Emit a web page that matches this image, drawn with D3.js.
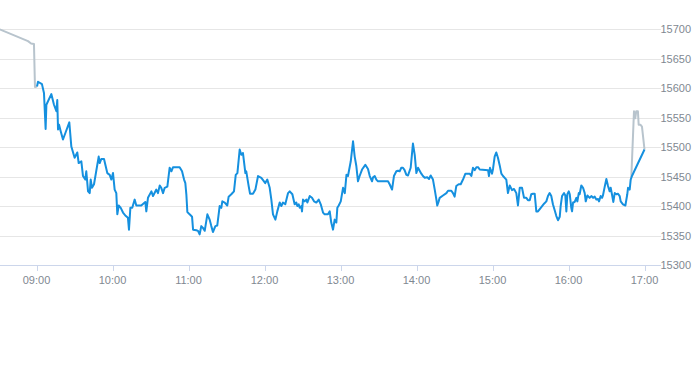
<!DOCTYPE html>
<html><head><meta charset="utf-8">
<script src="https://cdn.jsdelivr.net/npm/d3@7/dist/d3.min.js"></script>
<style>html,body{margin:0;padding:0;background:#fff;}svg{display:block;font-family:"Liberation Sans",Arial,sans-serif;}</style>
</head><body>
<svg id="chart" width="693" height="365"></svg>
<script>
// minutes after 09:00
const mainTimes = [0.4,1.2,4.3,5.9,7.2,7.8,11.7,13.8,15.7,16.4,17.0,17.8,19.1,20.9,22.8,25.9,27.5,30.1,32.2,33.3,35.4,36.7,38.5,39.3,40.7,42.0,42.8,43.8,45.4,49.1,49.9,51.2,53.3,55.9,57.8,59.1,60.4,61.7,63.0,63.8,64.9,66.5,68.3,70.1,72.2,73.0,74.1,75.6,77.5,78.8,82.7,85.9,86.7,88.0,90.7,92.0,94.6,95.9,97.3,98.5,99.9,101.2,103.3,105.1,106.5,107.8,113.0,114.9,116.5,117.5,118.3,119.1,120.9,122.8,123.6,126.2,127.5,128.8,130.1,131.4,132.8,134.9,136.7,138.0,139.3,141.2,142.7,144.6,145.9,146.7,148.6,150.6,151.7,153.8,155.9,157.3,158.6,160.4,161.7,163.0,164.9,165.6,167.5,168.6,170.9,172.8,174.9,177.5,179.6,180.6,182.2,184.1,185.4,186.7,188.6,190.1,192.0,193.3,194.6,196.4,198.6,199.9,202.0,203.8,205.1,205.9,207.0,207.8,209.1,209.6,210.4,211.7,213.0,213.8,215.7,217.5,219.1,220.9,222.8,224.4,226.2,227.5,230.1,231.5,232.7,234.1,235.4,236.7,237.5,238.6,240.2,242.0,243.4,244.7,245.9,248.1,249.9,251.2,252.5,253.8,255.1,257.0,259.6,261.7,263.1,264.9,265.7,267.0,268.3,269.6,277.5,278.8,280.7,282.2,284.1,285.4,286.7,288.0,289.3,290.6,292.0,293.3,295.4,297.2,298.6,299.9,301.2,303.8,305.1,306.5,308.5,309.9,311.2,313.0,314.4,315.7,316.4,317.5,318.3,320.9,323.6,324.9,327.5,328.8,330.1,331.4,333.3,334.9,336.7,338.6,342.0,343.3,344.6,346.0,347.3,348.6,349.9,356.5,357.2,358.0,359.6,360.4,361.7,363.0,364.3,365.7,367.0,368.3,370.9,372.2,373.6,375.4,377.0,378.8,380.1,381.5,383.3,384.9,386.7,388.0,389.4,390.6,392.0,393.3,394.6,395.9,398.1,400.7,402.5,403.8,405.1,406.4,407.7,409.1,410.4,411.7,413.1,413.8,414.9,416.5,417.5,418.3,419.1,420.2,421.0,422.2,422.8,423.6,424.9,426.2,427.0,428.1,428.8,430.1,431.5,432.8,433.6,434.9,436.7,438.0,439.4,440.7,442.0,443.3,444.1,445.4,446.5,447.2,448.6,449.9,451.2,452.5,453.3,454.3,455.4,456.5,457.8,459.1,460.4,461.2,463.0,464.9,466.4,467.0,468.3,469.1,470.1,480];
const mainValues = [15603,15611,15607,15592,15531,15572,15590,15572,15561,15580,15530,15538,15527,15513,15524,15542,15501,15482,15491,15473,15476,15451,15445,15459,15425,15422,15445,15431,15437,15484,15473,15480,15480,15456,15453,15445,15456,15428,15422,15386,15401,15397,15389,15384,15380,15360,15397,15397,15411,15401,15401,15407,15391,15414,15425,15417,15428,15422,15435,15431,15422,15431,15433,15465,15459,15466,15466,15459,15445,15439,15420,15390,15386,15382,15360,15359,15358,15352,15366,15363,15358,15386,15377,15366,15356,15366,15367,15400,15397,15408,15406,15401,15416,15420,15425,15453,15456,15496,15487,15490,15456,15459,15434,15421,15421,15428,15451,15448,15442,15439,15445,15431,15411,15386,15377,15391,15406,15400,15406,15403,15422,15425,15420,15403,15406,15400,15403,15397,15400,15391,15411,15408,15411,15406,15417,15414,15408,15406,15411,15403,15389,15386,15386,15391,15372,15360,15377,15372,15397,15401,15408,15431,15422,15453,15451,15476,15510,15484,15468,15442,15451,15462,15470,15463,15451,15442,15449,15451,15445,15442,15442,15437,15428,15451,15459,15460,15459,15465,15465,15461,15453,15452,15465,15506,15487,15456,15465,15455,15451,15448,15449,15446,15452,15445,15428,15411,15401,15408,15414,15418,15422,15426,15426,15422,15416,15434,15437,15437,15445,15455,15455,15451,15465,15461,15466,15466,15462,15461,15451,15465,15455,15463,15484,15491,15482,15469,15455,15451,15445,15422,15435,15427,15429,15422,15401,15431,15431,15414,15414,15410,15410,15420,15421,15421,15391,15391,15397,15404,15408,15417,15422,15417,15403,15393,15383,15376,15382,15400,15417,15422,15418,15391,15420,15425,15420,15397,15391,15406,15407,15414,15408,15422,15420,15435,15431,15422,15408,15418,15414,15417,15414,15416,15411,15412,15408,15417,15414,15418,15433,15446,15434,15425,15431,15420,15407,15422,15420,15421,15417,15408,15403,15401,15420,15431,15428,15445,15451,15496];
const preTimes = [-29,-6.7,-4.3,-2.0,-1.2,0.4];
const preValues = [15700,15680,15676,15675,15602,15603];
const postTimes = [469.6,471.7,472.7,473.5,474.8,475.4,476.9,478.0,480];
const postValues = [15449,15561,15549,15561,15561,15538,15538,15535,15496];
const yTicks = [15300,15350,15400,15450,15500,15550,15600,15650,15700];
const xTicks = [0,60,120,180,240,300,360,420,480];
const xTickLabels = ["09:00","10:00","11:00","12:00","13:00","14:00","15:00","16:00","17:00"];

const svg = d3.select("#chart");
const plotRight = 661;
const x = d3.scaleLinear().domain([0,480]).range([36.5,644.5]);
const y = d3.scaleLinear().domain([15300,15700]).range([265,29.3]);

// gridlines
svg.append("g").selectAll("line").data(yTicks.slice(1)).join("line")
  .attr("x1",0).attr("x2",plotRight)
  .attr("y1",d=>Math.round(y(d))+0.5).attr("y2",d=>Math.round(y(d))+0.5)
  .attr("stroke","#e6e6e6").attr("stroke-width",1);

// x axis line
svg.append("line").attr("x1",0).attr("x2",plotRight)
  .attr("y1",Math.round(y(15300))+0.5).attr("y2",Math.round(y(15300))+0.5)
  .attr("stroke","#ccd6eb");

// x ticks
const xg = svg.append("g");
xg.selectAll("line").data(xTicks).join("line")
  .attr("x1",d=>Math.round(x(d))+0.5).attr("x2",d=>Math.round(x(d))+0.5)
  .attr("y1",266).attr("y2",271).attr("stroke","#ccd6eb");
xg.selectAll("text").data(xTicks).join("text")
  .attr("x",d=>x(d)).attr("y",284)
  .attr("text-anchor","middle").attr("font-size",11).attr("fill","#7f8891")
  .text((d,i)=>xTickLabels[i]);

// y labels
svg.append("g").selectAll("text").data(yTicks).join("text")
  .attr("x",691).attr("y",d=>y(d)+4)
  .attr("text-anchor","end")
  .attr("font-size",11).attr("fill","#7f8891")
  .text(d=>d);

const line = d3.line().x(d=>x(d[0])).y(d=>y(d[1]));
const clip = svg.append("clipPath").attr("id","pc").append("rect")
  .attr("x",0).attr("y",0).attr("width",plotRight).attr("height",270);

const pre = preTimes.map((t,i)=>[t,preValues[i]]);
const post = postTimes.map((t,i)=>[t,postValues[i]]);
const main = mainTimes.map((t,i)=>[t,mainValues[i]]);
const g = svg.append("g").attr("clip-path","url(#pc)");
g.append("path").attr("d",line(pre)).attr("fill","none").attr("stroke","#b8c4cd").attr("stroke-width",2).attr("stroke-linejoin","round");
g.append("path").attr("d",line(post)).attr("fill","none").attr("stroke","#b8c4cd").attr("stroke-width",2).attr("stroke-linejoin","round");
g.append("path").attr("d",line(main)).attr("fill","none").attr("stroke","#1590df").attr("stroke-width",2).attr("stroke-linejoin","round");
</script>
</body></html>
